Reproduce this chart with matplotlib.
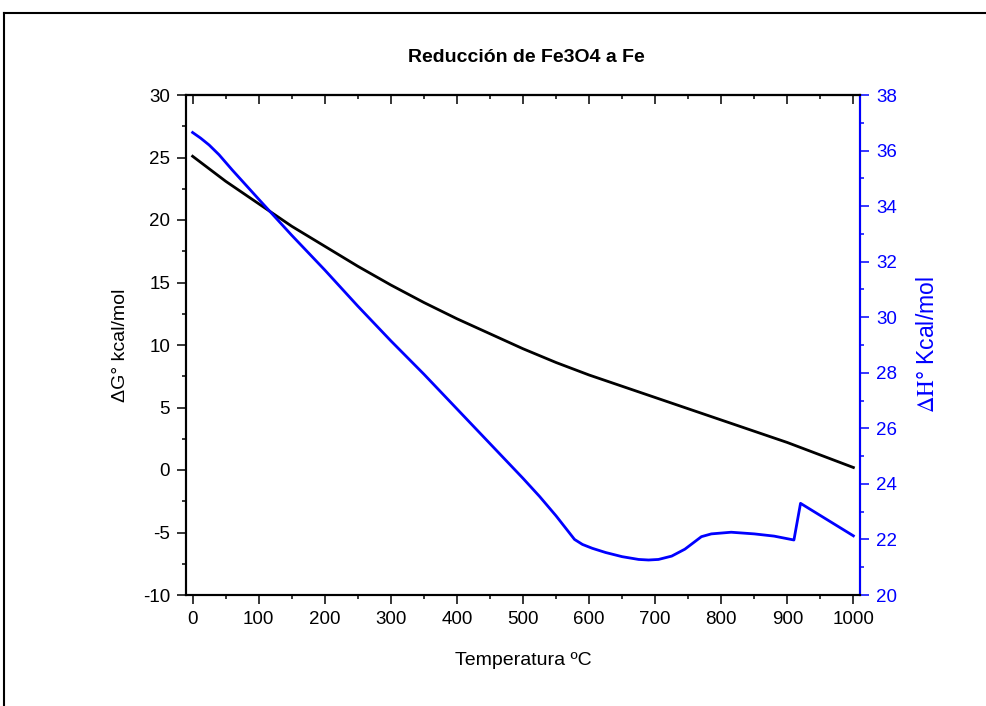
import numpy as np
import matplotlib.pyplot as plt
from matplotlib.lines import Line2D
from matplotlib.ticker import MultipleLocator

plt.rcParams['font.family'] = ['Liberation Sans', 'DejaVu Sans']
plt.rcParams['mathtext.fontset'] = 'stix'
plt.rcParams['axes.unicode_minus'] = False

# Delta G (kcal/mol), left axis
temp_g = [0, 50, 100, 150, 200, 250, 300, 350, 400, 450, 500,
          550, 600, 650, 700, 750, 800, 850, 900, 950, 1000]
delta_g = [25.1, 23.1, 21.3, 19.5, 17.9, 16.3, 14.8, 13.4, 12.1, 10.9, 9.7,
           8.6, 7.6, 6.7, 5.8, 4.9, 4.0, 3.1, 2.2, 1.2, 0.2]

# Delta H (Kcal/mol), right axis
temp_h = [0, 12, 25, 40, 60, 100, 150, 200, 250, 300, 350, 400, 450, 500,
          525, 550, 578, 590, 605, 625, 650, 675, 690, 705, 725, 745, 760, 770,
          785, 815, 850, 880, 910, 920, 1000]
delta_h = [36.65, 36.45, 36.2, 35.85, 35.3, 34.25, 32.95, 31.7, 30.4, 29.15,
           27.95, 26.7, 25.45, 24.2, 23.55, 22.85, 22.0, 21.82, 21.68, 21.53,
           21.38, 21.28, 21.26, 21.28, 21.4, 21.65, 21.92, 22.1, 22.2, 22.26,
           22.2, 22.12, 21.98, 23.3, 22.13]

fig = plt.figure(figsize=(9.86, 7.06), dpi=100)
ax = fig.add_axes([186/986, 1-595/706, (860-186)/986, (595-95)/706])
ax2 = ax.twinx()

ax.plot(temp_g, delta_g, color='black', lw=2)
ax2.plot(temp_h, delta_h, color='blue', lw=2)

ax.set_xlim(-10, 1010)
ax.set_ylim(-10, 30)
ax2.set_ylim(20, 38)

ax.xaxis.set_major_locator(MultipleLocator(100))
ax.xaxis.set_minor_locator(MultipleLocator(50))
ax.yaxis.set_major_locator(MultipleLocator(5))
ax.yaxis.set_minor_locator(MultipleLocator(2.5))
ax2.yaxis.set_major_locator(MultipleLocator(2))
ax2.yaxis.set_minor_locator(MultipleLocator(1))

for s in ax.spines.values():
    s.set_linewidth(1.5)
for s in ax2.spines.values():
    s.set_linewidth(1.5)
ax2.spines['right'].set_color('blue')

ax.tick_params(which='both', direction='out', width=1.1, labelsize=13.5, pad=5)
ax.tick_params(which='major', length=6.5)
ax.tick_params(which='minor', length=3.2)
ax2.tick_params(axis='y', which='both', direction='out', width=1.1, colors='blue',
                labelsize=13.5, pad=5)
ax2.tick_params(axis='y', which='major', length=6.5)
ax2.tick_params(axis='y', which='minor', length=3.2)

top = ax.secondary_xaxis('top')
top.xaxis.set_major_locator(MultipleLocator(100))
top.xaxis.set_minor_locator(MultipleLocator(50))
top.tick_params(which='both', direction='in', width=1.1, labeltop=False)
top.tick_params(which='major', length=6.5)
top.tick_params(which='minor', length=3.2)
top.spines['top'].set_linewidth(1.5)

ax.set_xlabel('Temperatura ºC', fontsize=14, labelpad=17)
ax.set_ylabel('ΔG° kcal/mol', fontsize=14, labelpad=10)
ax2.set_ylabel(r'$\Delta\mathrm{H}$° Kcal/mol', fontsize=16.5, color='blue', labelpad=14)

fig.text(526/986, 1-57/706, 'Reducción de Fe3O4 a Fe', ha='center', va='center',
         fontsize=14, fontweight='bold')

# outer frame (top and left edges)
fig.add_artist(Line2D([4/986, 1], [1-13/706, 1-13/706], color='black', lw=1.5))
fig.add_artist(Line2D([4/986, 4/986], [0, 1-13/706], color='black', lw=1.5))

fig.savefig('out.png', dpi=100)
